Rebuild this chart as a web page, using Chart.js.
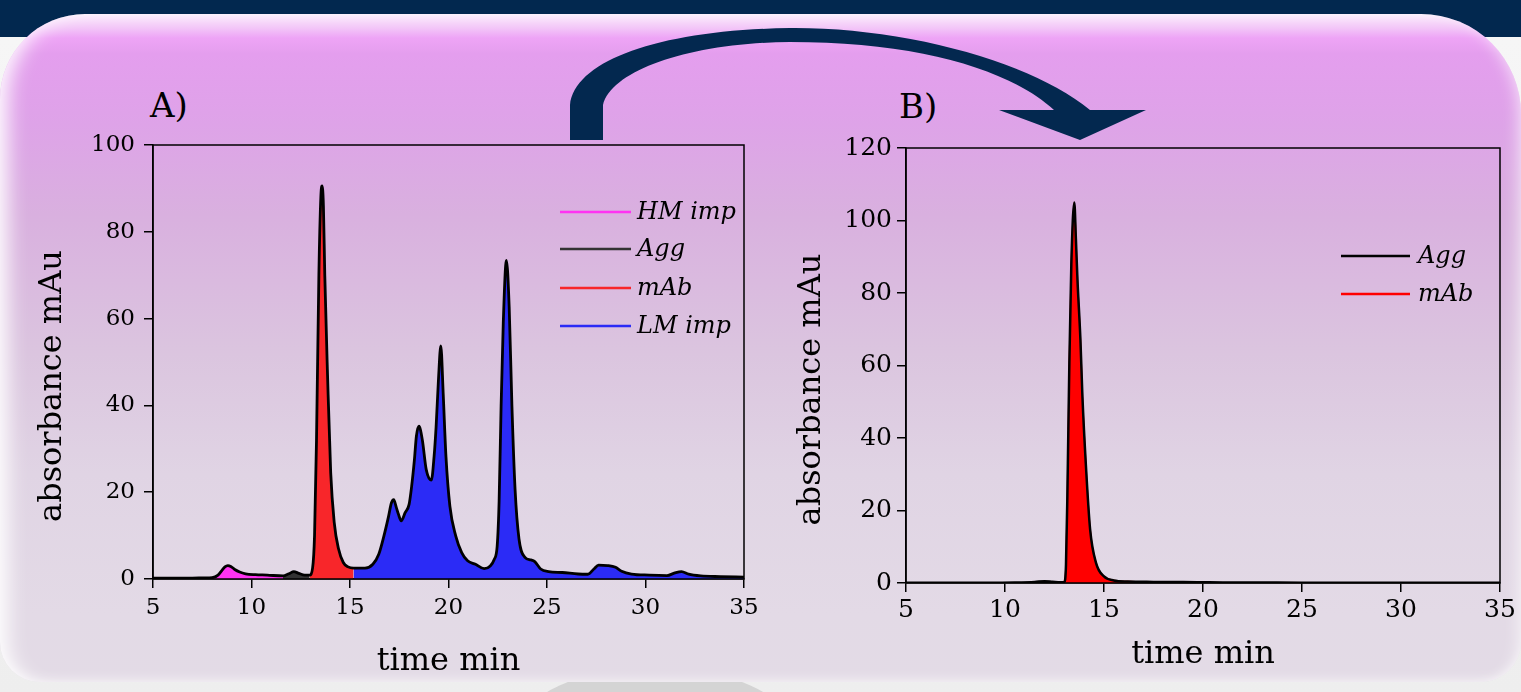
<!DOCTYPE html>
<html>
<head>
<meta charset="utf-8">
<script src="https://cdn.jsdelivr.net/npm/chart.js@4.4.1/dist/chart.umd.min.js"></script>
<style>
html,body{margin:0;padding:0;width:1521px;height:692px;overflow:hidden;background:#ececec;font-family:'DejaVu Serif',serif;}
#band{position:absolute;left:0;top:0;width:1521px;height:37px;background:#02284f;}
#under{position:absolute;left:0;top:37px;width:1521px;height:655px;background:linear-gradient(to bottom,#f6f6f6,#eeeeee);}
#dome{position:absolute;left:520px;top:668px;width:270px;height:120px;border-radius:50%;background:#d4d4d4;}
#panel{position:absolute;left:0;top:14px;width:1521px;height:668px;border-radius:85px 100px 40px 40px;
background:linear-gradient(to bottom,#fbeefc 0px,#f3c6f8 14px,#eea4f6 24px,#e49eee 40px,#dea3e8 110px,#d9b0df 200px,#dbc5df 340px,#e0d4e4 460px,#e3dae6 600px,#e3dbe6 668px);
box-shadow: inset 18px 0 20px -10px rgba(255,255,255,.95), inset -12px 0 16px -10px rgba(255,255,255,.7), inset 0 -10px 14px -10px rgba(255,255,255,.6);}
.lbl{position:absolute;font-size:34px;line-height:34px;color:#000;}
canvas{position:absolute;}
svg{position:absolute;left:0;top:0;}
</style>
</head>
<body>
<div id="band"></div>
<div id="under"></div>
<div id="dome"></div>
<div id="panel"></div>
<svg width="1521" height="692">
  <path d="M570,140 L570,105 C575,60 660,30 790,28 C900,27 1030,60 1090,110 L1146,110 L1080,140 L999,110 L1054,110 C1010,70 920,42 790,42 C690,43 612,70 603,105 L603,140 Z" fill="#03284f"/>
</svg>
<div class="lbl" style="left:150px;top:88px;">A)</div>
<div class="lbl" style="left:899px;top:89px;">B)</div>
<canvas id="chartA" width="770" height="590" style="left:0px;top:100px;"></canvas>
<canvas id="chartB" width="761" height="590" style="left:760px;top:100px;"></canvas>
<script>
// ---------- Chart A data (time in min, absorbance in mAu) ----------
const leadTimeA = [5, 6, 7, 7.6, 8.0];
const leadAbsA  = [0.2, 0.2, 0.2, 0.25, 0.3];
const hmTimeA = [8.0, 8.3, 8.5, 8.65, 8.8, 8.95, 9.15, 9.4, 9.7, 10.2, 10.8, 11.6];
const hmAbsA  = [0.3, 0.9, 2.0, 2.8, 3.1, 2.9, 2.2, 1.6, 1.2, 1.0, 0.9, 0.7];
const aggTimeA = [11.6, 11.9, 12.15, 12.4, 12.7, 12.95];
const aggAbsA  = [0.7, 1.2, 1.7, 1.3, 0.9, 0.9];
const mabTimeA = [12.95, 13.1, 13.2, 13.3, 13.42, 13.52, 13.58, 13.65, 13.72, 13.86, 14.02, 14.2, 14.42, 14.66, 14.9, 15.18];
const mabAbsA  = [0.9, 2.5, 10, 32, 70, 88, 90.6, 86, 70, 47, 24.5, 13, 6.9, 3.8, 2.8, 2.5];
const lmTimeA = [15.18, 15.76, 16.16, 16.46, 16.72, 16.96, 17.1, 17.22, 17.35, 17.46, 17.6, 17.8, 18.0, 18.13, 18.27, 18.37, 18.5, 18.67, 18.87, 19.13, 19.27, 19.37, 19.49, 19.61, 19.73, 19.87, 20.07, 20.37, 20.67, 20.97, 21.37, 21.81, 22.12, 22.32, 22.47, 22.57, 22.67, 22.78, 22.94, 23.08, 23.22, 23.38, 23.58, 23.88, 24.18, 24.38, 24.68, 25.08, 25.78, 26.58, 27.08, 27.38, 27.62, 28.08, 28.48, 28.79, 29.29, 30.19, 31.09, 31.49, 31.83, 32.19, 32.8, 33.8, 35];
const lmAbsA  = [2.5, 2.5, 3.4, 5.7, 9.9, 14.5, 17.5, 18.3, 16.5, 14.9, 13.4, 15.3, 17.2, 21.4, 27.5, 32.9, 35.2, 32.1, 25.2, 22.8, 28.3, 35, 45.9, 53.7, 42.8, 28.3, 16.8, 9.9, 6.1, 4.2, 3.4, 2.4, 3.0, 4.5, 7.5, 18, 39.8, 58.9, 73.4, 62.7, 39.8, 20.6, 9.2, 5.0, 4.4, 4.0, 2.3, 1.7, 1.5, 1.15, 1.1, 2.3, 3.2, 3.1, 2.7, 1.8, 1.15, 0.9, 0.8, 1.4, 1.7, 1.1, 0.7, 0.55, 0.45];

// ---------- Chart B data ----------
const aggTimeB = [5, 7, 9, 10.5, 11.5, 12.0, 12.4, 12.8];
const aggAbsB  = [0.1, 0.1, 0.1, 0.15, 0.3, 0.5, 0.35, 0.2];
const mabTimeB = [13.0, 13.08, 13.15, 13.25, 13.35, 13.5, 13.58, 13.66, 13.81, 13.91, 14.08, 14.3, 14.6, 15.0, 15.5, 16.2, 17.5, 19.0, 20.0];
const mabAbsB  = [0.3, 5, 24, 60.7, 88, 105, 95, 83.7, 67, 51.5, 33, 14.7, 5.5, 1.8, 0.7, 0.4, 0.3, 0.25, 0.2];
const tailTimeB = [21, 23, 25, 27, 29, 31, 33, 35];
const tailAbsB  = [0.15, 0.12, 0.1, 0.1, 0.1, 0.1, 0.1, 0.1];

// ---------- Labels / ticks ----------
const seriesNamesA = ['HM imp', 'Agg', 'mAb', 'LM imp'];
const seriesColorsA = ['#ff33f2', '#333333', '#f8262a', '#2b2bf6'];
const seriesNamesB = ['Agg', 'mAb'];
const seriesColorsB = ['#000000', '#ff0000'];
const xTickStep = 5, xMin = 5, xMax = 35;
const yMaxA = 100, yMaxB = 120, yStep = 20;
const xTitle = 'time min', yTitle = 'absorbance mAu';

function pts(t, v) { return t.map((x, i) => ({x: x, y: v[i]})); }
function joinPts(...lists) {
  const out = [];
  lists.forEach(l => l.forEach(p => { if (!out.length || p.x > out[out.length-1].x) out.push(p); }));
  return out;
}

const framePlugin = {
  id: 'frame',
  afterDatasetsDraw(chart) {
    const {ctx, chartArea: a} = chart;
    ctx.save();
    ctx.strokeStyle = '#000';
    ctx.lineWidth = 1.5;
    ctx.strokeRect(a.left, a.top, a.right - a.left, a.bottom - a.top);
    ctx.restore();
  }
};
const legendPlugin = {
  id: 'insideLegend',
  afterDraw(chart, args, opts) {
    const ctx = chart.ctx;
    ctx.save();
    ctx.font = 'italic 24px "DejaVu Serif"';
    ctx.textBaseline = 'middle';
    ctx.fillStyle = '#000';
    opts.names.forEach((n, i) => {
      const y = opts.ys[i];
      ctx.strokeStyle = opts.colors[i];
      ctx.lineWidth = 2.5;
      ctx.beginPath();
      ctx.moveTo(opts.x0, y);
      ctx.lineTo(opts.x1, y);
      ctx.stroke();
      ctx.fillText(n, opts.tx, y + 1);
    });
    ctx.restore();
  }
};

Chart.defaults.font.family = "'DejaVu Serif', serif";
Chart.defaults.color = '#000';

function scales(yMax, tickSize, yWidth, xHeight, yTitlePad, xTitlePad, yTickPad, xTickPad) {
  const grid = {display: true, drawOnChartArea: false, drawTicks: true, tickLength: 9, color: '#000', lineWidth: 1.5};
  return {
    x: {
      type: 'linear', min: xMin, max: xMax,
      ticks: {stepSize: xTickStep, font: {size: tickSize}, color: '#000', padding: xTickPad, maxRotation: 0},
      grid: grid, border: {color: '#000', width: 1.5},
      title: {display: true, text: xTitle, font: {size: 32}, color: '#000', padding: {top: 0, bottom: xTitlePad}},
      afterFit: s => { s.height = xHeight; }
    },
    y: {
      type: 'linear', min: 0, max: yMax,
      ticks: {stepSize: yStep, font: {size: tickSize}, color: '#000', padding: yTickPad},
      grid: grid, border: {color: '#000', width: 1.5},
      title: {display: true, text: yTitle + '\u2002\u2002\u2002', font: {size: 32}, color: '#000', padding: {top: yTitlePad, bottom: 0}},
      afterFit: s => { s.width = yWidth; }
    }
  };
}

const outlineA = joinPts(pts(leadTimeA, leadAbsA), pts(hmTimeA, hmAbsA), pts(aggTimeA, aggAbsA), pts(mabTimeA, mabAbsA), pts(lmTimeA, lmAbsA));
const common = {pointRadius: 0, cubicInterpolationMode: 'monotone'};

new Chart(document.getElementById('chartA'), {
  type: 'line',
  data: {
    datasets: [
      Object.assign({label: 'outline', data: outlineA, borderColor: '#000', borderWidth: 2.8, fill: false}, common),
      Object.assign({label: seriesNamesA[0], data: pts(hmTimeA, hmAbsA), borderWidth: 0, borderColor: seriesColorsA[0], backgroundColor: seriesColorsA[0], fill: 'origin'}, common),
      Object.assign({label: seriesNamesA[1], data: pts(aggTimeA, aggAbsA), borderWidth: 0, borderColor: seriesColorsA[1], backgroundColor: seriesColorsA[1], fill: 'origin'}, common),
      Object.assign({label: seriesNamesA[2], data: pts(mabTimeA, mabAbsA), borderWidth: 0, borderColor: seriesColorsA[2], backgroundColor: seriesColorsA[2], fill: 'origin'}, common),
      Object.assign({label: seriesNamesA[3], data: pts(lmTimeA, lmAbsA), borderWidth: 0, borderColor: seriesColorsA[3], backgroundColor: seriesColorsA[3], fill: 'origin'}, common)
    ]
  },
  options: {
    responsive: false, animation: false, devicePixelRatio: 1,
    layout: {padding: {left: 0, top: 45, right: 26, bottom: 0}},
    plugins: {
      legend: {display: false}, tooltip: {enabled: false},
      insideLegend: {names: seriesNamesA, colors: seriesColorsA, x0: 560, x1: 631, tx: 637, ys: [112, 149, 188, 226]}
    },
    scales: scales(yMaxA, 23, 153, 111, 33, 9, 9, 6)
  },
  plugins: [framePlugin, legendPlugin]
});

const outlineB = joinPts(pts(aggTimeB, aggAbsB), pts(mabTimeB, mabAbsB), pts(tailTimeB, tailAbsB));
new Chart(document.getElementById('chartB'), {
  type: 'line',
  data: {
    datasets: [
      Object.assign({label: seriesNamesB[0], data: outlineB, borderColor: '#000', borderWidth: 2.5, fill: false}, common),
      Object.assign({label: seriesNamesB[1], data: pts(mabTimeB, mabAbsB), borderWidth: 1.5, borderColor: seriesColorsB[1], backgroundColor: seriesColorsB[1], fill: 'origin'}, common)
    ]
  },
  options: {
    responsive: false, animation: false, devicePixelRatio: 1,
    layout: {padding: {left: 0, top: 48, right: 21, bottom: 0}},
    plugins: {
      legend: {display: false}, tooltip: {enabled: false},
      insideLegend: {names: seriesNamesB, colors: seriesColorsB, x0: 581, x1: 650, tx: 658, ys: [156, 194]}
    },
    scales: scales(yMaxB, 25, 146, 107, 32, 16, 5, 3)
  },
  plugins: [framePlugin, legendPlugin]
});
</script>
</body>
</html>
